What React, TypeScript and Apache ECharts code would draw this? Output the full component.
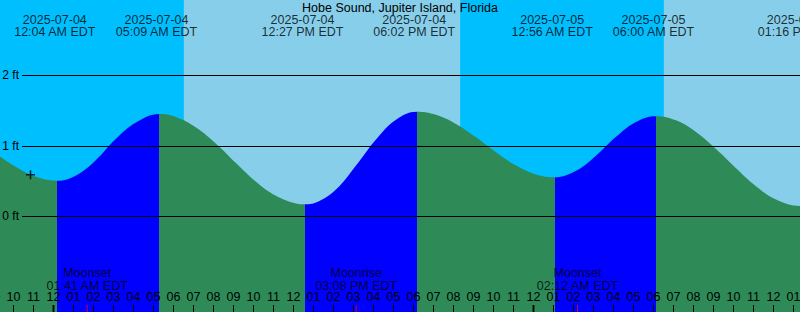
import React, { useEffect, useRef } from 'react';
import * as echarts from 'echarts';

const stationName = 'Hobe Sound, Jupiter Island, Florida';

// Tide curve: hours after 2025-07-04 00:00 EDT, height in ft
const tideHours = [-3, -2, -1, 0.067, 1, 2, 3, 4, 5.15, 6, 7, 8, 9, 10, 11, 12, 12.45, 13, 14, 15, 16, 17, 18.033, 19, 20, 21, 22, 23, 24, 24.933, 26, 27, 28, 29, 30, 31, 32, 33, 34, 35, 36, 37.267, 38];
const tideFeet = [0.89, 0.7, 0.56, 0.505, 0.58, 0.8, 1.1, 1.33, 1.451, 1.41, 1.26, 1.03, 0.755, 0.49, 0.29, 0.182, 0.17, 0.195, 0.38, 0.72, 1.09, 1.37, 1.484, 1.44, 1.31, 1.12, 0.91, 0.72, 0.594, 0.553, 0.645, 0.86, 1.127, 1.339, 1.42, 1.361, 1.197, 0.955, 0.683, 0.428, 0.239, 0.146, 0.21];

// Tide extremes (labels across the top)
const tideEventDates = ['2025-07-04', '2025-07-04', '2025-07-04', '2025-07-04', '2025-07-05', '2025-07-05', '2025-07-05'];
const tideEventTimes = ['12:04 AM EDT', '05:09 AM EDT', '12:27 PM EDT', '06:02 PM EDT', '12:56 AM EDT', '06:00 AM EDT', '01:16 PM EDT'];
const tideEventKinds = ['low', 'high', 'low', 'high', 'low', 'high', 'low'];

// Moon events
const moonEventNames = ['Moonset', 'Moonrise', 'Moonset'];
const moonEventDates = ['2025-07-04', '2025-07-04', '2025-07-05'];
const moonEventTimes = ['01:41 AM EDT', '03:08 PM EDT', '02:12 AM EDT'];

// Sun events (day / night shading)
const sunriseDates = ['2025-07-04', '2025-07-05'];
const sunriseTimes = ['06:31 AM EDT', '06:31 AM EDT'];
const sunsetDates = ['2025-07-04'];
const sunsetTimes = ['08:20 PM EDT'];

// Day starts (thick midnight ticks)
const dayStartDates = ['2025-07-04', '2025-07-05'];

// Height axis ticks
const heightTickMin = 0;
const heightTickMax = 2;

// Current-time marker
const nowHour = -1.275;
const nowFeet = 0.59;

const FONT = 'Liberation Sans, Arial, sans-serif';
const NIGHT = '#00BFFF';
const DAY = '#87CEEB';
const RISING = '#0000FF';
const FALLING = '#2E8B57';

function toHours(date: string, time: string): number {
  const day = parseInt(date.slice(8, 10), 10) - 4;
  const m = time.match(/(\d+):(\d+)\s*(AM|PM)/);
  if (!m) return 0;
  let h = parseInt(m[1], 10) % 12;
  if (m[3] === 'PM') h += 12;
  return day * 24 + h + parseInt(m[2], 10) / 60;
}

export default function App() {
  const ref = useRef<HTMLDivElement>(null);

  useEffect(() => {
    if (!ref.current) return;
    const chart = echarts.init(ref.current, undefined, { renderer: 'svg' });

    const tideEventHours = tideEventDates.map((d, i) => toHours(d, tideEventTimes[i]));
    const moonHours = moonEventDates.map((d, i) => toHours(d, moonEventTimes[i]));
    const sunrises = sunriseDates.map((d, i) => toHours(d, sunriseTimes[i]));
    const sunsets = sunsetDates.map((d, i) => toHours(d, sunsetTimes[i]));
    const midnights = dayStartDates.map((d) => toHours(d, '12:00 AM'));

    const dayRanges: any[] = sunrises.map((sr, i) => [
      { xAxis: sr },
      { xAxis: i < sunsets.length ? sunsets[i] : 38 },
    ]);

    const pieces: any[] = [];
    pieces.push({ lt: tideEventHours[0], color: tideEventKinds[0] === 'low' ? FALLING : RISING });
    for (let i = 0; i < tideEventHours.length; i++) {
      const color = tideEventKinds[i] === 'low' ? RISING : FALLING;
      if (i < tideEventHours.length - 1) pieces.push({ gte: tideEventHours[i], lt: tideEventHours[i + 1], color });
      else pieces.push({ gte: tideEventHours[i], color });
    }

    const hourLabel = (v: number) => {
      const hod = ((Math.round(v) % 24) + 24) % 24;
      const h12 = hod % 12 === 0 ? 12 : hod % 12;
      return String(h12).padStart(2, '0');
    };

    const option: any = {
      animation: false,
      backgroundColor: NIGHT,
      title: {
        text: stationName,
        left: 'center',
        top: 1,
        padding: 0,
        textStyle: { fontSize: 12.5, fontWeight: 'normal', color: '#000', fontFamily: FONT },
      },
      grid: [
        { left: 0, right: 0, top: 0, bottom: 0, outerBoundsMode: 'none', containLabel: false },
        { left: -6.5, top: 0, width: 820, height: 312, outerBoundsMode: 'none', containLabel: false },
        { left: 22, right: 0, top: 75.3, height: 141, outerBoundsMode: 'none', containLabel: false },
      ],
      xAxis: [
        { gridIndex: 0, type: 'value', min: -2.8, max: 37.2, show: false },
        {
          gridIndex: 1,
          type: 'value',
          min: -3,
          max: 38,
          interval: 1,
          z: 10,
          axisLine: { show: false },
          axisTick: { show: true, inside: true, length: 7, lineStyle: { color: '#000', width: 1 } },
          axisLabel: { inside: true, margin: 9, formatter: hourLabel, color: '#000', fontSize: 12.5, fontFamily: FONT },
          splitLine: { show: false },
        },
        { gridIndex: 2, type: 'value', min: 0, max: 1, show: false },
      ],
      yAxis: [
        { gridIndex: 0, type: 'value', min: -1.357, max: 3.068, show: false },
        { gridIndex: 1, type: 'value', min: 0, max: 1, show: false },
        {
          gridIndex: 2,
          type: 'value',
          min: heightTickMin,
          max: heightTickMax,
          interval: 1,
          z: 10,
          axisLine: { show: false },
          axisTick: { show: false },
          axisLabel: { formatter: '{value} ft', margin: 3, color: '#000', fontSize: 12, fontFamily: FONT },
          splitLine: { show: true, lineStyle: { color: '#000', width: 1 } },
        },
      ],
      visualMap: {
        type: 'piecewise',
        show: false,
        seriesIndex: 1,
        dimension: 0,
        pieces,
      },
      series: [
        {
          type: 'line',
          xAxisIndex: 1,
          yAxisIndex: 1,
          data: [],
          z: 0,
          silent: true,
          markArea: { silent: true, itemStyle: { color: DAY }, data: dayRanges },
        },
        {
          type: 'line',
          xAxisIndex: 0,
          yAxisIndex: 0,
          data: tideHours.map((h, i) => [h, tideFeet[i]]),
          smooth: 0.4,
          symbol: 'none',
          lineStyle: { width: 0 },
          areaStyle: { opacity: 1, origin: 'start' },
          z: 2,
          silent: true,
        },
        {
          type: 'scatter',
          xAxisIndex: 1,
          yAxisIndex: 1,
          data: tideEventHours.map((h) => [h, 1]),
          symbolSize: 0,
          clip: false,
          z: 5,
          silent: true,
          label: {
            show: true,
            position: 'inside',
            offset: [0, 25.5],
            align: 'center',
            verticalAlign: 'middle',
            lineHeight: 12,
            fontSize: 12.5,
            color: '#000',
            fontFamily: FONT,
            formatter: (p: any) => tideEventDates[p.dataIndex] + '\n' + tideEventTimes[p.dataIndex],
          },
        },
        {
          type: 'scatter',
          xAxisIndex: 1,
          yAxisIndex: 1,
          data: moonHours.map((h) => [h, 0]),
          symbolSize: 0,
          clip: false,
          z: 5,
          silent: true,
          label: {
            show: true,
            position: 'inside',
            offset: [0, -32.5],
            align: 'center',
            verticalAlign: 'middle',
            lineHeight: 13,
            fontSize: 12.5,
            color: '#000',
            fontFamily: FONT,
            formatter: (p: any) => moonEventNames[p.dataIndex] + '\n' + moonEventTimes[p.dataIndex],
          },
        },
        {
          type: 'scatter',
          xAxisIndex: 1,
          yAxisIndex: 1,
          data: moonHours.map((h) => [h, 0]),
          symbol: 'rect',
          symbolSize: [1, 7],
          symbolOffset: [0, -3.5],
          clip: false,
          z: 11,
          silent: true,
          itemStyle: { color: '#FF0000' },
        },
        {
          type: 'scatter',
          xAxisIndex: 1,
          yAxisIndex: 1,
          data: midnights.map((h) => [h, 0]),
          symbol: 'rect',
          symbolSize: [2, 7],
          symbolOffset: [0, -3.5],
          clip: false,
          z: 11,
          silent: true,
          itemStyle: { color: '#000' },
        },
        {
          type: 'scatter',
          xAxisIndex: 0,
          yAxisIndex: 0,
          data: [[nowHour, nowFeet]],
          symbol: 'path://M0,3.75H9V5.25H0Z M3.75,0H5.25V9H3.75Z',
          symbolSize: 9,
          z: 11,
          silent: true,
          itemStyle: { color: '#000' },
        },
      ],
    };

    chart.setOption(option);
    return () => chart.dispose();
  }, []);

  return <div ref={ref} style={{ position: 'fixed', left: 0, top: 0, width: 800, height: 312 }} />;
}
